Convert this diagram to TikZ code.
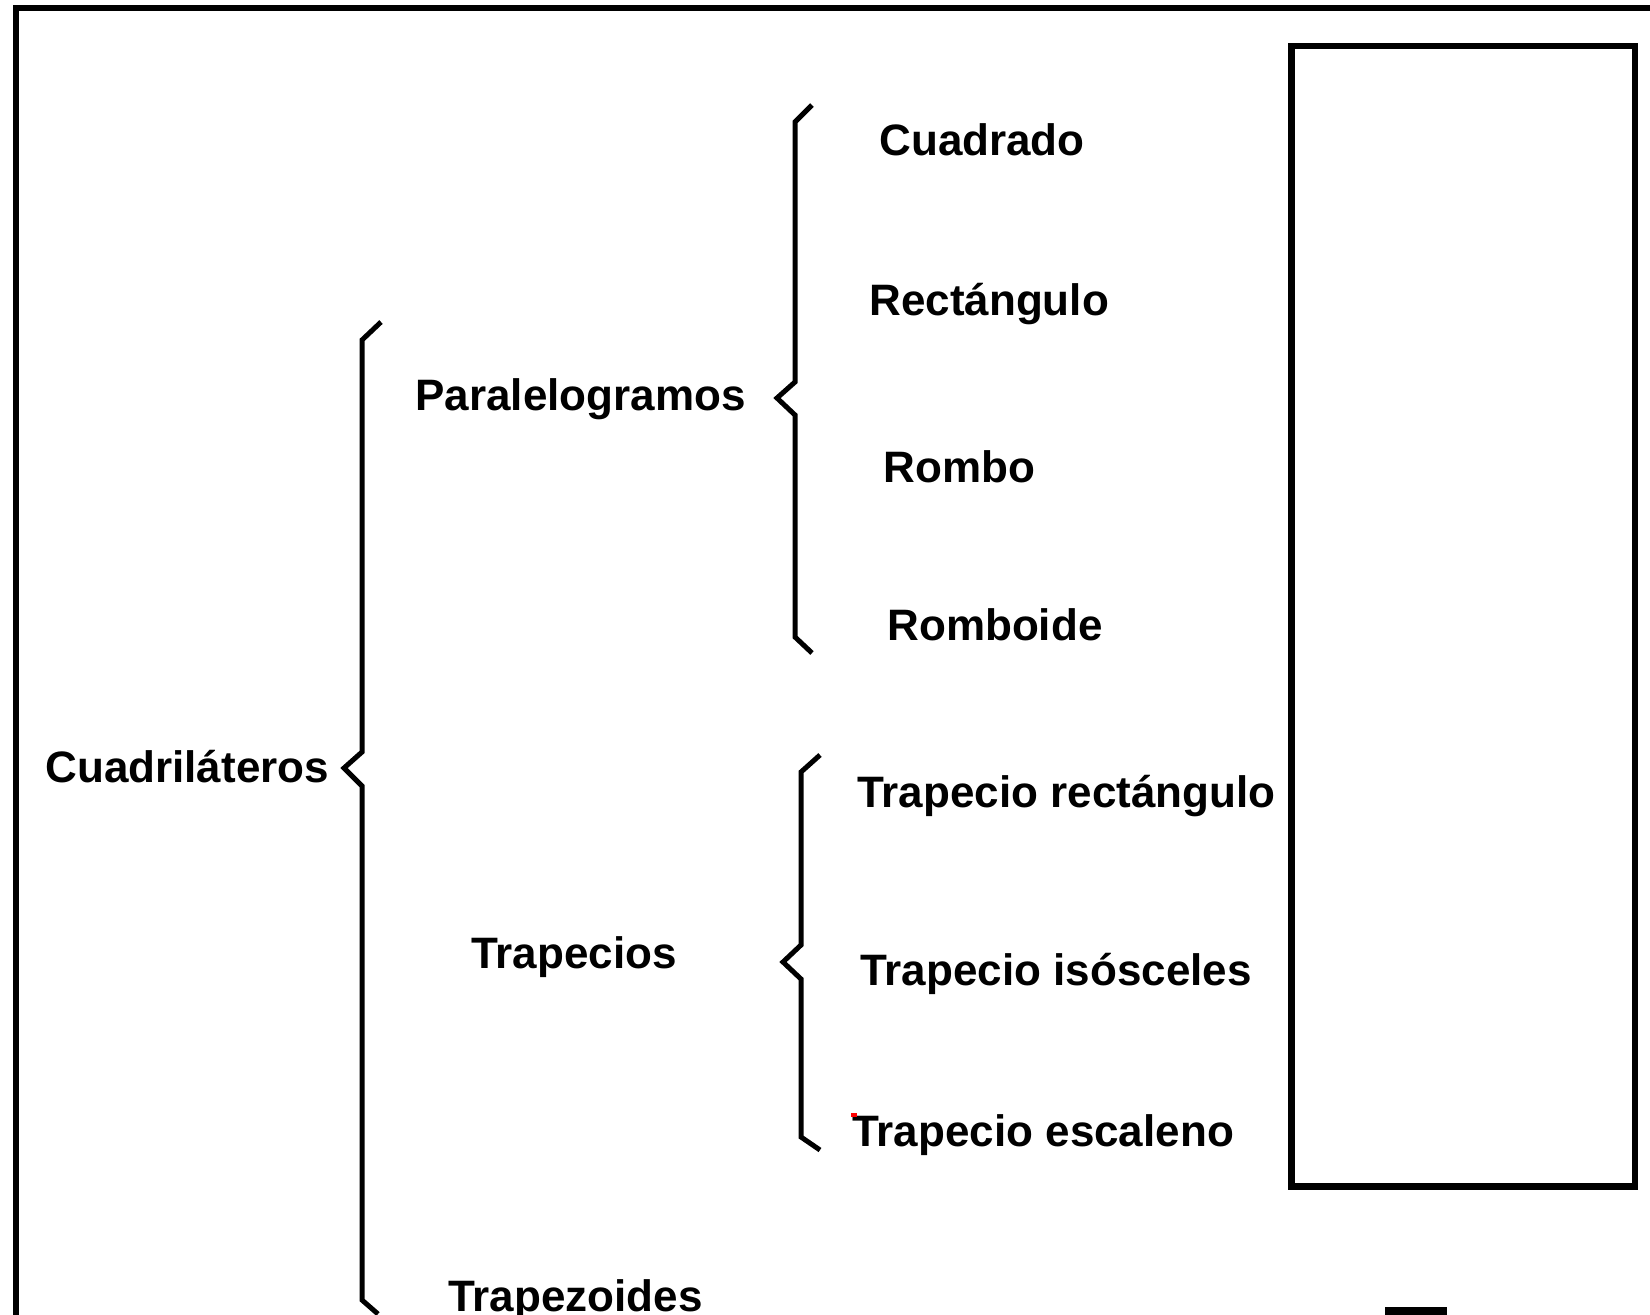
\documentclass[tikz,border=0pt]{standalone}
\usepackage{fontspec}
\setmainfont{Liberation Sans}
\begin{document}
\begin{tikzpicture}[x=0.5pt,y=-0.5pt,
  lbl/.style={anchor=base west,inner sep=0pt,font=\fontsize{22}{26}\selectfont\bfseries},
  brace/.style={line width=2.5pt,line join=miter,line cap=butt},
  frame/.style={line width=3pt}]
\useasboundingbox (0,0) rectangle (1650,1314);
\begin{scope}
\clip (0,0) rectangle (1650,1314);
% outer frame (extends beyond the picture)
\draw[frame] (1700,7.5) -- (16,7.5) -- (16,1400);
% inner empty box
\draw[line width=3.3pt] (1291.5,46) rectangle (1635,1186.5);
% small dash at the bottom
\fill (1385,1307) rectangle (1447,1320);
\end{scope}
% labels
\node[lbl] (cuad) at (45,782) {Cuadriláteros};
\node[lbl] (para) at (415,410) {Paralelogramos};
\node[lbl] (trap) at (471,968) {Trapecios};
\node[lbl] (tzd)  at (448,1311) {Trapezoides};
\node[lbl] (cdo)  at (879,155) {Cuadrado};
\node[lbl] (rect) at (869,315) {Rectángulo};
\node[lbl] (romb) at (883,482) {Rombo};
\node[lbl] (rbd)  at (887,640) {Romboide};
\node[lbl] (tr)   at (857,807) {Trapecio rectángulo};
\node[lbl] (ti)   at (860,985) {Trapecio isósceles};
\node[lbl] (te)   at (852,1146) {Trapecio escaleno};
% tiny red mark
\fill[red] (851,1113) rectangle (857,1117);
% braces
\draw[brace] (381,322) -- (362,340) -- (362,752) -- (344,768) -- (362,786) -- (362,1300) -- (378,1314);
\draw[brace] (812,105) -- (795,122) -- (795,382) -- (777,398) -- (795,415) -- (795,637) -- (812,653);
\draw[brace] (820,755) -- (801,772) -- (801,945) -- (783,962) -- (801,979) -- (801,1137) -- (820,1150);
\end{tikzpicture}
\end{document}
